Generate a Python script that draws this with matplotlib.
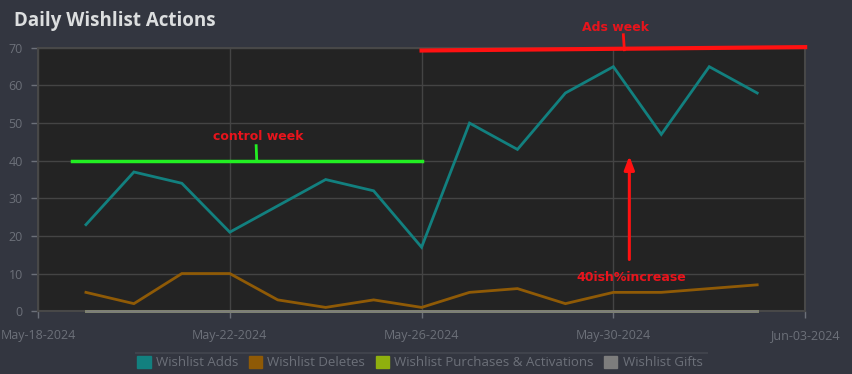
import datetime as dt
import matplotlib
matplotlib.use("Agg")
import matplotlib.pyplot as plt
import matplotlib.dates as mdates
from matplotlib.lines import Line2D
from matplotlib.patches import Patch

# data
dates = [dt.datetime(2024, 5, 19) + dt.timedelta(days=i) for i in range(15)]
adds = [23, 37, 34, 21, 28, 35, 32, 17, 50, 43, 58, 65, 47, 65, 58]
deletes = [5, 2, 10, 10, 3, 1, 3, 1, 5, 6, 2, 5, 5, 6, 7]
purchases = [0] * 15
gifts = [0] * 15

series_names = ["Wishlist Adds", "Wishlist Deletes",
                "Wishlist Purchases & Activations", "Wishlist Gifts"]
colours = ["#12807f", "#8f5a06", "#8fb00e", "#7d7d7d"]

BG = "#333640"
PLOT_BG = "#232323"
GRID = "#444444"
TICK = "#6c7079"


def day(m, d, h=0.0):
    return dt.datetime(2024, m, d) + dt.timedelta(hours=h)


plt.rcParams["font.family"] = ["Open Sans", "DejaVu Sans"]

fig = plt.figure(figsize=(8.52, 3.74), dpi=100, facecolor=BG)
ax = fig.add_axes([0.0446, 0.168, 0.9004, 0.704])
ax.set_facecolor(PLOT_BG)

for vals, colour in zip([adds, deletes, purchases, gifts], colours):
    ax.plot(dates, vals, color=colour, lw=2, solid_joinstyle="miter", clip_on=False,
            zorder=3)

ax.set_ylim(0, 70)
ax.set_xlim(day(5, 18), day(6, 3))
ax.set_yticks(range(0, 71, 10))
ax.set_xticks([day(5, 18), day(5, 22), day(5, 26), day(5, 30), day(6, 3)])
ax.xaxis.set_major_formatter(mdates.DateFormatter("%b-%d-%Y"))
ax.grid(True, color=GRID, lw=1)
ax.set_axisbelow(True)
for s in ax.spines.values():
    s.set_color("#484848")
    s.set_linewidth(1.5)
ax.tick_params(colors=TICK, labelsize=9, length=5, width=1, pad=6)
ax.tick_params(axis="x", pad=8)

fig.text(0.016, 0.945, "Daily Wishlist Actions", color="#dcdedf", fontsize=13.5,
         fontweight="bold", va="center", ha="left")

# annotations
ann = dict(fontfamily="DejaVu Sans", fontweight="bold", fontsize=9, color="#e8141c")
ax.plot([day(5, 18, 17), day(5, 26)], [40, 40], color="#22ee22", lw=2.5, zorder=4)
ax.plot([day(5, 22, 13.5), day(5, 22, 13.2)], [40, 44], color="#22ee22", lw=2, zorder=4)
ax.text(day(5, 22, 14), 46.5, "control week", ha="center", va="center", **ann)
ax.plot([day(5, 26), day(6, 3)], [69.3, 70.2], color="#ff1111", lw=3, clip_on=False,
        zorder=4)
ax.plot([day(5, 30, 5), day(5, 30, 5.5)], [73.5, 69.5], color="#ff1111", lw=2,
        clip_on=False, zorder=4)
ax.text(day(5, 30, 1), 75.5, "Ads week", ha="center", va="center", clip_on=False, **ann)
ax.annotate("", xy=(day(5, 30, 8), 42), xytext=(day(5, 30, 8), 13),
            arrowprops=dict(arrowstyle="-|>,head_length=0.8,head_width=0.3",
                            color="#ff1111", lw=2.2), zorder=4)
ax.text(day(5, 30, 9), 9, "40ish%increase", ha="center", va="center", **ann)

# legend
handles = [Patch(facecolor=c, edgecolor=c) for c in colours]
fig.legend(handles, series_names, loc="center", bbox_to_anchor=(0.493, 0.03), ncol=4,
           frameon=False, fontsize=9.5, labelcolor=TICK, handlelength=1.0,
           handleheight=1.0, handletextpad=0.4, columnspacing=0.8)
fig.add_artist(Line2D([0.16, 0.83], [0.057, 0.057], color="#40434c", lw=1.5))

fig.savefig("out.png", dpi=100, facecolor=BG)
